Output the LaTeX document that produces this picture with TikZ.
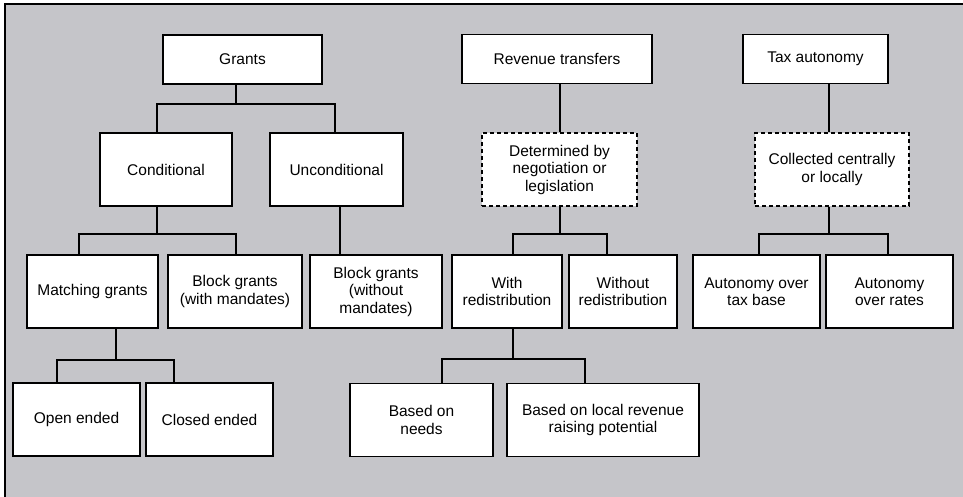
\documentclass[tikz,border=0pt]{standalone}
\usepackage{fontspec}
\setmainfont{Liberation Sans}
\definecolor{panel}{RGB}{197,197,201}
\tikzset{
  box/.style={draw, fill=white, line width=1.9pt, align=center, inner sep=2pt,
    minimum height=73, font=\fontsize{15.5}{17.5}\selectfont},
  topbox/.style={box, minimum height=49},
  dashbox/.style={box, dash pattern=on 4pt off 3pt},
  link/.style={line width=1.9pt}
}
\begin{document}
\begin{tikzpicture}[x=1pt, y=-1pt]
      \useasboundingbox (0,0) rectangle (963,497);
      \fill [panel] (5,4) rectangle (963,497);
      \draw [line width=1.8pt] (5,497) -- (5,4) -- (963,4);

      \node [topbox, minimum width=159] (grants) at (242.5,59.5) {Grants};
      \node [topbox, minimum width=190] (rev) at (557,59) {Revenue transfers};
      \node [topbox, minimum width=145] (tax) at (815.5,59) {Tax autonomy};

      \node [box, minimum width=132] (cond) at (166,169.5) {Conditional};
      \node [box, minimum width=133] (uncond) at (336.5,169.5) {Unconditional};
      \node [dashbox, minimum width=155] (determ) at (559.5,169.5) {Determined by\\negotiation or\\legislation};
      \node [dashbox, minimum width=154] (collect) at (832,169.5) {Collected centrally\\or locally};

      \node [box, minimum width=131] (match) at (92.5,291.5) {Matching grants};
      \node [box, minimum width=134] (blockw) at (235,291.5) {Block grants\\(with mandates)};
      \node [box, minimum width=132] (blockwo) at (376,291.5) {Block grants\\(without\\mandates)};
      \node [box, minimum width=110] (withr) at (507,291.5) {With\\redistribution};
      \node [box, minimum width=108] (withoutr) at (623,291.5) {Without\\redistribution};
      \node [box, minimum width=127] (autbase) at (756.5,291.5) {Autonomy over\\tax base};
      \node [box, minimum width=127] (autrates) at (889.5,291.5) {Autonomy\\over rates};

      \node [box, minimum width=127] (open) at (76.5,419.5) {Open ended};
      \node [box, minimum width=127] (closed) at (209.5,419.5) {Closed ended};
      \node [box, minimum width=143] (needs) at (421.5,420) {Based on\\needs};
      \node [box, minimum width=192] (local) at (603,420) {Based on local revenue\\raising potential};

      \draw [link] ([xshift=-6.5pt]grants.south) -- ++(0,19) coordinate (gbar);
      \draw [link] ([xshift=-9pt]cond.north) |- (gbar) -| ([xshift=-1.5pt]uncond.north);
      \draw [link] ([xshift=0.5pt]determ.north |- rev.south) -- ([xshift=0.5pt]determ.north);
      \draw [link] ([xshift=-3pt]collect.north |- tax.south) -- ([xshift=-3pt]collect.north);

      \draw [link] ([xshift=-9pt]cond.south) -- ++(0,27) coordinate (cbar);
      \draw [link] ([xshift=-13.5pt]match.north) |- (cbar) -| ([xshift=1pt]blockw.north);
      \draw [link] ([xshift=3.5pt]uncond.south) -- ([xshift=3.5pt]uncond.south |- blockwo.north);
      \draw [link] ([xshift=0.5pt]determ.south) -- ++(0,27) coordinate (dbar);
      \draw [link] ([xshift=6pt]withr.north) |- (dbar) -| ([xshift=-16pt]withoutr.north);
      \draw [link] ([xshift=-3pt]collect.south) -- ++(0,27) coordinate (tbar);
      \draw [link] ([xshift=2.5pt]autbase.north) |- (tbar) -| ([xshift=-1.5pt]autrates.north);

      \draw [link] ([xshift=23.5pt]match.south) -- ++(0,31) coordinate (mbar);
      \draw [link] ([xshift=-19.5pt]open.north) |- (mbar) -| ([xshift=-35.5pt]closed.north);
      \draw [link] ([xshift=6pt]withr.south) -- ++(0,30) coordinate (wbar);
      \draw [link] ([xshift=20.5pt]needs.north) |- (wbar) -| ([xshift=-18pt]local.north);
    \end{tikzpicture}
\end{document}
